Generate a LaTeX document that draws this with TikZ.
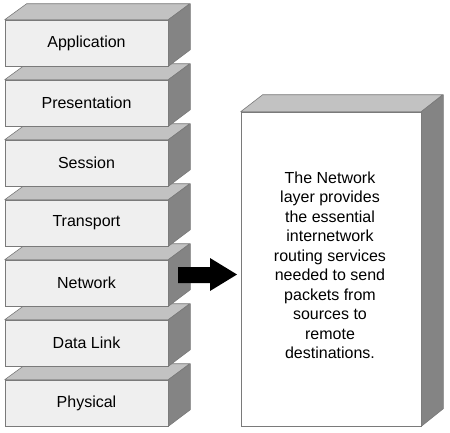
\documentclass[tikz,border=0pt]{standalone}
\usepackage{fontspec}
\setmainfont{Liberation Sans}
\definecolor{frontc}{HTML}{EFEFEF}
\definecolor{topc}{HTML}{C2C2C2}
\definecolor{sidec}{HTML}{848484}
\definecolor{edgec}{HTML}{7A7A7A}
\begin{document}
\begin{tikzpicture}[x=1pt,y=-1pt,
  layer/.style={draw=edgec, line width=0.6pt, fill=frontc, minimum width=163pt, minimum height=46pt, inner sep=0pt, font=\fontsize{16}{19}\selectfont},
  bigbox/.style={draw=edgec, line width=0.6pt, fill=white, minimum width=180pt, minimum height=314pt, inner sep=0pt},
  topface/.style={draw=edgec, line width=0.6pt, fill=topc, line join=round},
  sideface/.style={draw=edgec, line width=0.6pt, fill=sidec, line join=round}]
\useasboundingbox (0,0) rectangle (450,432);
\foreach \name/\lbl [count=\i] in {phy/Physical, dl/Data Link, net/Network, tra/Transport, ses/Session, pre/Presentation, app/Application}{
  \node[layer] (\name) at (86.5, {403-60*(\i-1)}) {\lbl};
  \draw[topface] (\name.north west) -- ++(22,-16) -- ++(163,0) -- (\name.north east) -- cycle;
  \draw[sideface] (\name.north east) -- ++(22,-16) -- ++(0,46) -- (\name.south east) -- cycle;
}
\node[bigbox] (desc) at (331,269) {};
\draw[topface] (desc.north west) -- ++(22,-17) -- ++(180,0) -- (desc.north east) -- cycle;
\draw[sideface] (desc.north east) -- ++(22,-17) -- ++(0,314) -- (desc.south east) -- cycle;
\node[anchor=north, inner sep=0pt, align=center, font=\fontsize{16}{19.5}\selectfont] (desctext) at (330,171.5)
  {The Network\\layer provides\\the essential\\internetwork\\routing services\\needed to send\\packets from\\sources to\\remote\\destinations.};
\fill[black] (178,267) -- (210,267) -- (210,258) -- (237,274.5) -- (210,291) -- (210,283) -- (178,283) -- cycle;
\end{tikzpicture}
\end{document}
